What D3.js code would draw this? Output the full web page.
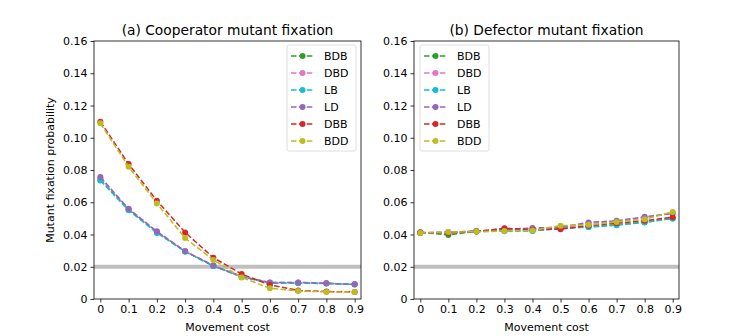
<!DOCTYPE html>
<html><head><meta charset="utf-8">
<script src="https://cdn.jsdelivr.net/npm/d3@7"></script>
<style>body{margin:0;background:#fff}svg{display:block}text{font-family:"DejaVu Sans",sans-serif}</style>
</head><body><svg id="c" width="756" height="336"></svg>
<script>
const costs = [0,0.1,0.2,0.3,0.4,0.5,0.6,0.7,0.8,0.9];
const seriesNames = ["BDB","DBD","LB","LD","DBB","BDD"];
const seriesColors = ["#2ca02c","#e377c2","#17becf","#9467bd","#d62728","#bcbd22"];
const coopBDB = [0.0740,0.0555,0.0415,0.0295,0.0205,0.0140,0.0100,0.0100,0.0097,0.0091];
const coopDBD = [0.0750,0.0560,0.0420,0.0297,0.0207,0.0138,0.0102,0.0103,0.0097,0.0091];
const coopLB  = [0.0735,0.0550,0.0410,0.0294,0.0205,0.0137,0.0098,0.0098,0.0096,0.0090];
const coopLD  = [0.0757,0.0558,0.0418,0.0296,0.0207,0.0138,0.0103,0.0103,0.0097,0.0091];
const coopDBB = [0.1100,0.0837,0.0610,0.0413,0.0256,0.0155,0.0087,0.0053,0.0046,0.0044];
const coopBDD = [0.1090,0.0820,0.0593,0.0378,0.0242,0.0134,0.0066,0.0050,0.0044,0.0043];
const defBDB = [0.0414,0.0397,0.0420,0.0425,0.0424,0.0437,0.0448,0.0460,0.0476,0.0500];
const defDBD = [0.0412,0.0415,0.0420,0.0437,0.0435,0.0440,0.0470,0.0480,0.0505,0.0535];
const defLB  = [0.0410,0.0412,0.0418,0.0420,0.0422,0.0440,0.0445,0.0458,0.0475,0.0500];
const defLD  = [0.0410,0.0413,0.0422,0.0430,0.0440,0.0445,0.0475,0.0485,0.0510,0.0530];
const defDBB = [0.0412,0.0410,0.0418,0.0438,0.0430,0.0433,0.0455,0.0470,0.0485,0.0507];
const defBDD = [0.0410,0.0415,0.0418,0.0422,0.0425,0.0455,0.0460,0.0478,0.0495,0.0540];
const yTicks = [0,0.02,0.04,0.06,0.08,0.10,0.12,0.14,0.16];
const refLevel = 0.02;
const titles = ["(a) Cooperator mutant fixation","(b) Defector mutant fixation"];
const xLabel = "Movement cost";
const yLabel = "Mutant fixation probability";

const panels = [
  {left:94, right:361, data:[coopBDB,coopDBD,coopLB,coopLD,coopDBB,coopBDD], legendX:287},
  {left:414, right:679, data:[defBDB,defDBD,defLB,defLD,defDBB,defBDD], legendX:420}
];
const plotTop = 41, plotBottom = 299;
const svg = d3.select("#c");

panels.forEach((p, pi) => {
  const x = d3.scaleLinear().domain([-0.0225, 0.9225]).range([p.left, p.right]);
  const y = d3.scaleLinear().domain([0, 0.16]).range([plotBottom, plotTop]);
  const g = svg.append("g");
  g.append("line").attr("x1", p.left).attr("x2", p.right)
    .attr("y1", y(refLevel)).attr("y2", y(refLevel))
    .attr("stroke", "#bfbfbf").attr("stroke-width", 4);
  p.data.forEach((vals, si) => {
    const pts = costs.map((c, i) => [c, vals[i]]);
    const line = d3.line().x(d => x(d[0])).y(d => y(d[1]));
    g.append("path").attr("d", line(pts)).attr("fill", "none")
      .attr("stroke", seriesColors[si]).attr("stroke-width", 1.5)
      .attr("stroke-dasharray", "5.5,2.4");
    g.selectAll(null).data(pts).enter().append("circle")
      .attr("cx", d => x(d[0])).attr("cy", d => y(d[1])).attr("r", 3)
      .attr("fill", seriesColors[si]);
  });
  const xa = g.append("g").attr("transform", `translate(0,${plotBottom})`)
    .call(d3.axisBottom(x).tickValues(costs).tickSize(3.5).tickPadding(3)
      .tickFormat(d => d === 0 ? "0" : d3.format(".1f")(d)));
  const ya = g.append("g").attr("transform", `translate(${p.left},0)`)
    .call(d3.axisLeft(y).tickValues(yTicks).tickSize(3.5).tickPadding(3)
      .tickFormat(d => d === 0 ? "0" : d3.format(".2f")(d)));
  [xa, ya].forEach(a => {
    a.select(".domain").remove();
    a.selectAll("text").attr("font-size", 11).attr("fill", "#000").attr("font-family", "DejaVu Sans");
    a.selectAll("line").attr("stroke", "#000").attr("stroke-width", 0.8);
  });
  g.append("rect").attr("x", p.left).attr("y", plotTop).attr("width", p.right - p.left)
    .attr("height", plotBottom - plotTop).attr("fill", "none").attr("stroke", "#000").attr("stroke-width", 0.8);
  g.append("text").attr("x", (p.left + p.right) / 2).attr("y", 34.5).attr("text-anchor", "middle")
    .attr("font-size", 13.8).text(titles[pi]);
  g.append("text").attr("x", (p.left + p.right) / 2).attr("y", 331).attr("text-anchor", "middle")
    .attr("font-size", 11).text(xLabel);
  const lx = p.legendX, ly = 45, lw = 69, lh = 106;
  g.append("rect").attr("x", lx).attr("y", ly).attr("width", lw).attr("height", lh).attr("rx", 2)
    .attr("fill", "rgba(255,255,255,0.8)").attr("stroke", "#d6d6d6").attr("stroke-width", 0.8);
  seriesNames.forEach((n, si) => {
    const yy = ly + 11 + si * 17;
    g.append("line").attr("x1", lx + 4).attr("x2", lx + 27).attr("y1", yy).attr("y2", yy)
      .attr("stroke", seriesColors[si]).attr("stroke-width", 1.5).attr("stroke-dasharray", "5.5,2.4");
    g.append("circle").attr("cx", lx + 15.5).attr("cy", yy).attr("r", 3).attr("fill", seriesColors[si]);
    g.append("text").attr("x", lx + 37).attr("y", yy + 4).attr("font-size", 11).text(n);
  });
});
svg.append("text").attr("transform", `translate(54,170) rotate(-90)`).attr("text-anchor", "middle")
  .attr("font-size", 11).text(yLabel);
</script></body></html>
